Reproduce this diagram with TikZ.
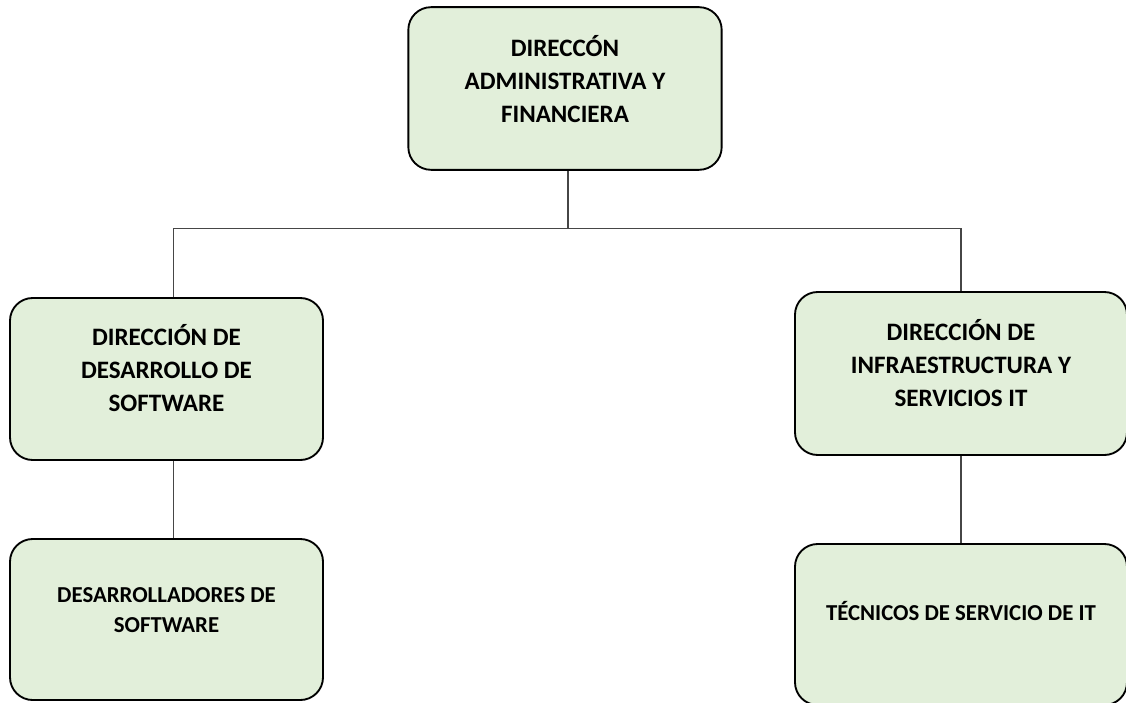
\documentclass[tikz,border=0pt]{standalone}
\usepackage{fontspec}
\setmainfont{Carlito}
\usepackage{xcolor}
\usepackage{tikz}
\usetikzlibrary{positioning}

\definecolor{boxgreen}{RGB}{226,239,218}
\definecolor{linkgray}{RGB}{70,70,70}

\begin{document}
\begin{tikzpicture}[
  x=0.75pt, y=-0.75pt,
  obox/.style={
    rectangle, rounded corners=17pt, draw=black, fill=boxgreen,
    minimum width=235pt, minimum height=122pt,
    align=center, font=\bfseries, inner sep=4pt,
    line width=1.4pt
  },
  link/.style={draw=linkgray, line width=0.9pt},
]

\useasboundingbox (0,0) rectangle (1126,702);

% === Top level ===
\node[obox, font=\bfseries\fontsize{18.8}{24.75}\selectfont, text depth=14.5pt]
  (dir) at (565,88.5)
  {DIRECCÓN\\ADMINISTRATIVA Y\\FINANCIERA};

% === Second level ===
\node[obox, minimum width=234.75pt, minimum height=121.5pt,
      font=\bfseries\fontsize{18.8}{24.75}\selectfont, text depth=16pt]
  (dds) at (166.5,379)
  {DIRECCIÓN DE\\DESARROLLO DE\\SOFTWARE};

\node[obox, minimum width=249pt, minimum height=122.25pt,
      font=\bfseries\fontsize{18.8}{24.75}\selectfont, text depth=16.5pt]
  (dis) at (961,373.5)
  {DIRECCIÓN DE\\INFRAESTRUCTURA Y\\SERVICIOS IT};

% === Third level ===
\node[obox, minimum width=234.75pt, minimum height=120.75pt,
      font=\bfseries\fontsize{17.1}{22.5}\selectfont, text depth=13.5pt]
  (des) at (166.5,619.5)
  {DESARROLLADORES DE\\SOFTWARE};

\node[obox, minimum width=249pt, minimum height=120.75pt,
      font=\bfseries\fontsize{17.1}{22.5}\selectfont, text depth=20pt]
  (tec) at (961,624.5)
  {TÉCNICOS DE SERVICIO DE IT};

% === CONNECTORS ===
\coordinate (bus) at (568,228.5);
\draw[link] (dir.south -| bus) -- (bus);
\draw[link] ([xshift=5pt]dds.north) |- (bus) -| (dis.north);
\draw[link] ([xshift=5pt]dds.south) -- ([xshift=5pt]des.north);
\draw[link] (dis.south) -- (tec.north);

\end{tikzpicture}
\end{document}
